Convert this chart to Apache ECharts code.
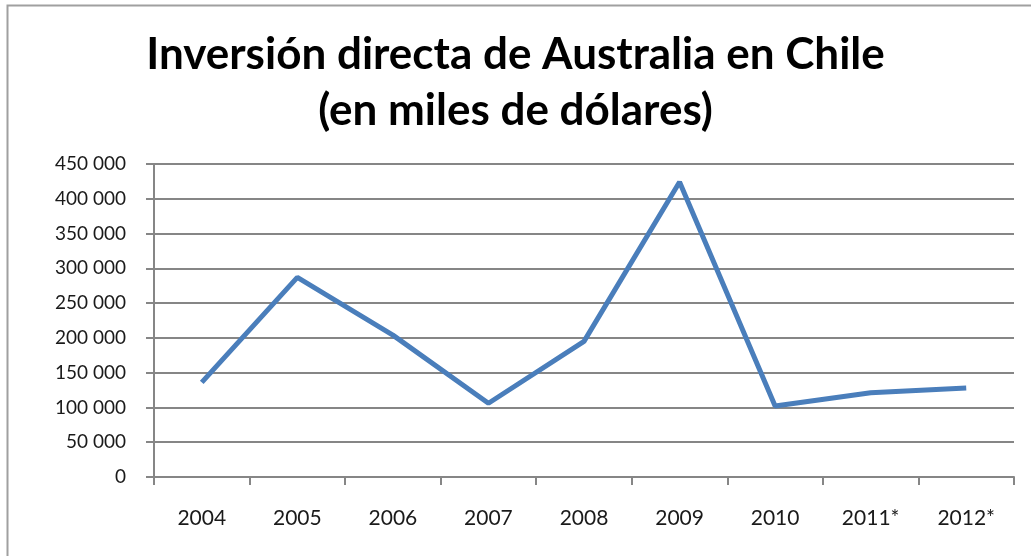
<!DOCTYPE html>
<html>
<head>
<meta charset="utf-8">
<script src="https://cdn.jsdelivr.net/npm/echarts@6/dist/echarts.min.js"></script>
<style>
html, body { margin: 0; padding: 0; background: #fff; }
#main { width: 1031px; height: 556px; }
</style>
</head>
<body>
<div id="main"></div>
<script>
// años y montos (miles de dólares)
const years = ['2004', '2005', '2006', '2007', '2008', '2009', '2010', '2011*', '2012*'];
const inversion = [136000, 287000, 204000, 106000, 195000, 424000, 102000, 121000, 128000];
const titleLines = ['Inversión directa de Australia en Chile', '(en miles de dólares)'];

const chart = echarts.init(document.getElementById('main'));
chart.setOption({
    animation: false,
    backgroundColor: '#fff',
    textStyle: { fontFamily: 'Lato' },
    graphic: [{
        type: 'rect',
        shape: { x: 7.5, y: 5.5, width: 1100, height: 600 },
        style: { fill: 'none', stroke: '#a0a0a0', lineWidth: 2 }
    }],
    title: {
        text: titleLines.join('\n'),
        left: 'center',
        top: 22,
        textStyle: {
            fontFamily: 'Lato',
            fontWeight: 'bold',
            fontSize: 44,
            lineHeight: 56,
            color: '#000'
        }
    },
    grid: { left: 154, right: 17, top: 164, bottom: 79 },
    xAxis: {
        type: 'category',
        data: years,
        boundaryGap: true,
        axisLine: { lineStyle: { color: '#868686', width: 2 } },
        axisTick: { show: true, length: 8, lineStyle: { color: '#868686', width: 2 } },
        axisLabel: { color: '#1a1a1a', fontSize: 21, margin: 31 }
    },
    yAxis: {
        type: 'value',
        min: 0,
        max: 450000,
        interval: 50000,
        axisLine: { show: true, lineStyle: { color: '#868686', width: 2 } },
        axisTick: { show: true, length: 8, lineStyle: { color: '#868686', width: 2 } },
        splitLine: { lineStyle: { color: '#868686', width: 2 } },
        axisLabel: {
            color: '#1a1a1a',
            fontSize: 19,
            margin: 28,
            formatter: v => String(v).replace(/\B(?=(\d{3})+(?!\d))/g, ' ')
        }
    },
    series: [{
        type: 'line',
        data: inversion,
        showSymbol: false,
        lineStyle: { color: '#4a7ebb', width: 5 },
        itemStyle: { color: '#4a7ebb' }
    }]
});
</script>
</body>
</html>
